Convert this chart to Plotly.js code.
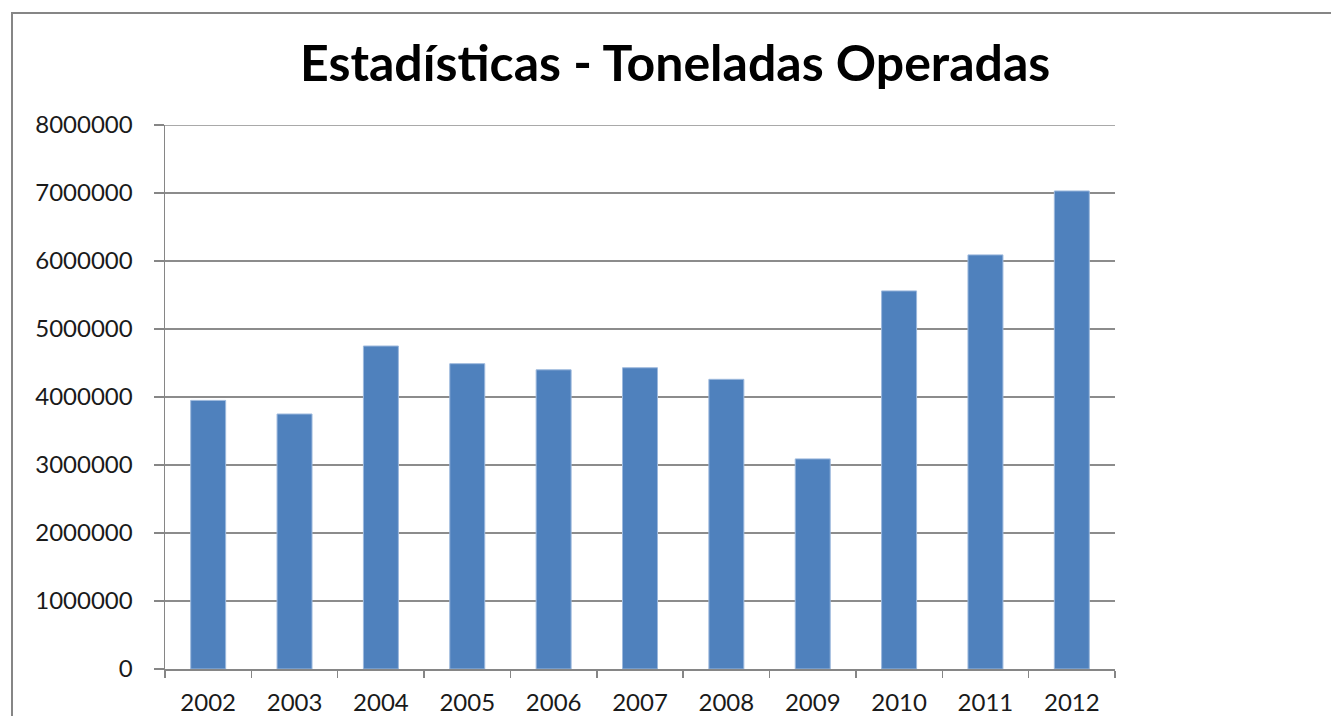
<!DOCTYPE html>
<html>
<head>
<meta charset="utf-8">
<script src="https://cdn.plot.ly/plotly-3.0.1.min.js"></script>
<style>
  html, body { margin: 0; padding: 0; background: #fff; overflow: hidden; }
  #wrap { position: relative; width: 1331px; height: 716px; }
  #chart { position: absolute; left: 0; top: 0; width: 1331px; height: 716px; }
  #frame { position: absolute; left: 11px; top: 12px; width: 1340px; height: 720px;
           border-left: 2px solid #868686; border-top: 2px solid #868686; pointer-events: none; }
</style>
</head>
<body>
<div id="wrap">
  <div id="chart"></div>
  <div id="frame"></div>
</div>
<script>
const years = ["2002","2003","2004","2005","2006","2007","2008","2009","2010","2011","2012"];
const toneladas = [3950000, 3750000, 4750000, 4490000, 4400000, 4430000, 4260000, 3090000, 5560000, 6090000, 7030000];
const yTicks = [0, 1000000, 2000000, 3000000, 4000000, 5000000, 6000000, 7000000, 8000000];
const yTickLabels = ["0","1000000","2000000","3000000","4000000","5000000","6000000","7000000","8000000"];

const yMax = yTicks[yTicks.length - 1];

const trace = {
  type: "bar",
  x: years,
  y: toneladas,
  marker: { color: "#4F81BD", line: { color: "#9DB9DD", width: 1 } },
  hoverinfo: "x+y"
};

const font = "Lato, 'Open Sans', 'Liberation Sans', sans-serif";

const layout = {
  width: 1331,
  height: 716,
  margin: { l: 165, r: 216, t: 125, b: 47, pad: 0 },
  paper_bgcolor: "#ffffff",
  plot_bgcolor: "#ffffff",
  showlegend: false,
  bargap: 0.595,
  title: {
    text: "<b>Estadísticas - Toneladas Operadas</b>",
    font: { family: font, size: 50, color: "#000000" },
    x: 0.537, xref: "paper", xanchor: "center",
    y: 0.912, yref: "container", yanchor: "middle"
  },
  xaxis: {
    type: "category",
    showgrid: false,
    showline: true,
    linecolor: "#868686",
    linewidth: 1.5,
    ticks: "outside",
    tickson: "boundaries",
    ticklen: 7,
    tickcolor: "#868686",
    tickwidth: 1.5,
    tickfont: { family: font, size: 24, color: "#1a1a1a" },
    ticklabelstandoff: 12,
    zeroline: false
  },
  yaxis: {
    range: [0, yMax],
    tickvals: yTicks,
    ticktext: yTickLabels,
    showgrid: true,
    gridcolor: "#8c8c8c",
    gridwidth: 1.5,
    showline: true,
    linecolor: "#868686",
    linewidth: 1.5,
    ticks: "outside",
    ticklen: 10,
    tickcolor: "#868686",
    tickwidth: 1.5,
    tickfont: { family: font, size: 24, color: "#1a1a1a" },
    ticklabelstandoff: 16,
    zeroline: false,
    fixedrange: true
  },
  shapes: [{
    type: "line", xref: "paper", yref: "y",
    x0: 0, x1: 1, y0: yMax, y1: yMax,
    line: { color: "#8c8c8c", width: 1.5 },
    layer: "below"
  }]
};

Plotly.newPlot("chart", [trace], layout, { displayModeBar: false, staticPlot: true });
</script>
</body>
</html>
